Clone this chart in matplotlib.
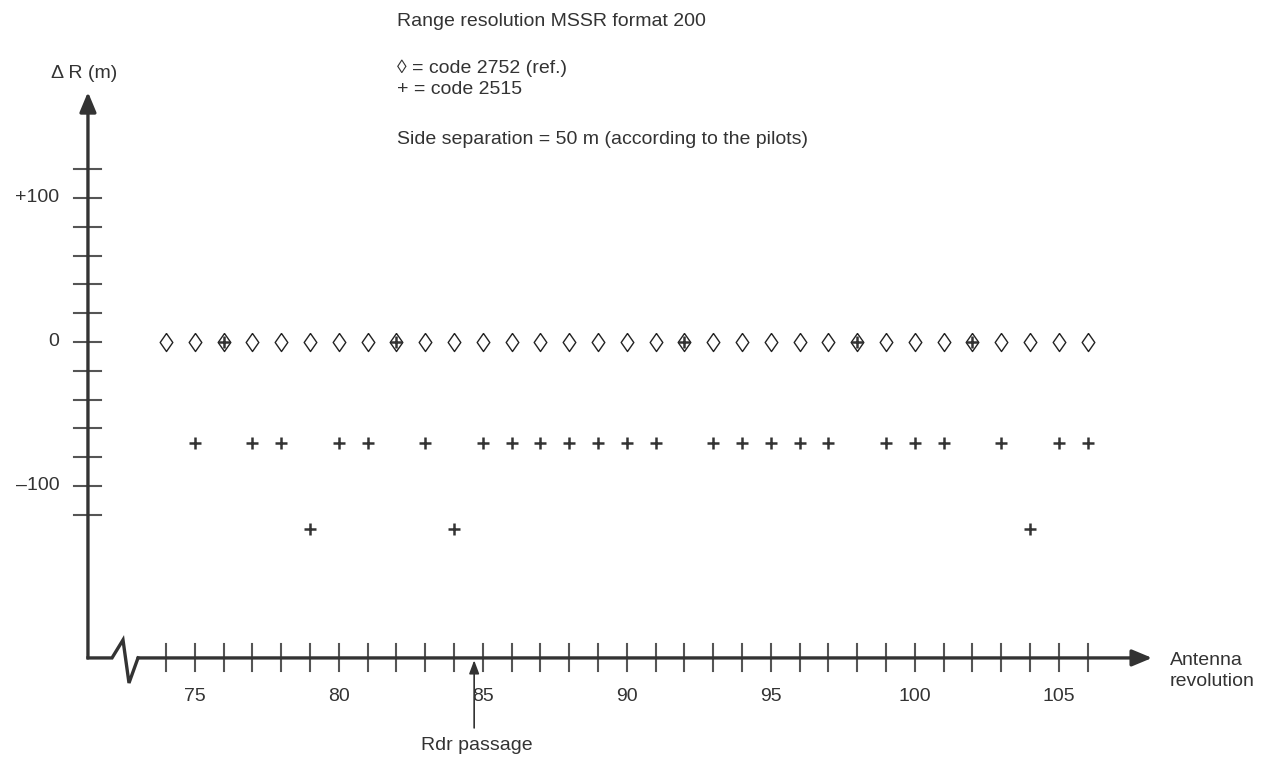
import matplotlib
matplotlib.use("Agg")
import matplotlib.pyplot as plt
from matplotlib.patches import FancyArrowPatch

plt.rcParams["font.family"] = ["Liberation Sans", "DejaVu Sans"]

INK = "#333333"
TICK_INK = "#555555"

# reference code 2752: every antenna revolution sits on 0
ref_revs = [74, 75, 76, 77, 78, 79, 80, 81, 82, 83, 84, 85, 86, 87, 88, 89, 90,
            91, 92, 93, 94, 95, 96, 97, 98, 99, 100, 101, 102, 103, 104, 105, 106]
ref_dr = [0, 0, 0, 0, 0, 0, 0, 0, 0, 0, 0, 0, 0, 0, 0, 0, 0,
          0, 0, 0, 0, 0, 0, 0, 0, 0, 0, 0, 0, 0, 0, 0, 0]

# code 2515
alt_revs = [75, 76, 77, 78, 79, 80, 81, 82, 83, 84, 85, 86, 87, 88, 89, 90,
            91, 92, 93, 94, 95, 96, 97, 98, 99, 100, 101, 102, 103, 104, 105, 106]
alt_dr = [-70, 0, -70, -70, -130, -70, -70, 0, -70, -130, -70, -70, -70, -70, -70, -70,
          -70, 0, -70, -70, -70, -70, -70, 0, -70, -70, -70, 0, -70, -130, -70, -70]

x_ticks = [74, 75, 76, 77, 78, 79, 80, 81, 82, 83, 84, 85, 86, 87, 88, 89, 90,
           91, 92, 93, 94, 95, 96, 97, 98, 99, 100, 101, 102, 103, 104, 105, 106]
x_labels = {75: "75", 80: "80", 85: "85", 90: "90", 95: "95", 100: "100", 105: "105"}
y_ticks = [-120, -100, -80, -60, -40, -20, 0, 20, 40, 60, 80, 100, 120]
y_labels = {100: "+100", 0: "0", -100: "\u2013100"}

radar_passage = 84.7

W, H = 1267, 759

DIAMOND = [(0, 1), (0.7, 0), (0, -1), (-0.7, 0), (0, 1)]


def fx(px):
    return px / W


def fy(py):
    return 1 - py / H


fig = plt.figure(figsize=(W / 100, H / 100), dpi=100)
ax = fig.add_axes([0, 0, 1, 1])
# 1 revolution = 28.8 px, 100 m = 144 px; rev 74 at x=166 px, 0 m at y=342 px
ax.set_xlim(74 - 166 / 28.8, 74 + (W - 166) / 28.8)
ax.set_ylim((342 - H) / 1.44, 342 / 1.44)
ax.axis("off")

y_axis_x = 71.29
x_axis_y = -219.4
ax_lw = 2.4

# y axis with arrow
ax.add_patch(FancyArrowPatch((y_axis_x, x_axis_y), (y_axis_x, 173.6),
                             arrowstyle="-|>,head_length=12,head_width=5",
                             mutation_scale=1, shrinkA=0, shrinkB=0,
                             lw=ax_lw, color=INK, zorder=3))
# x axis: short stub, break zigzag, then arrow
ax.plot([y_axis_x, 72.125, 72.507, 72.715, 73.028],
        [x_axis_y, x_axis_y, -206.9, -236.8, x_axis_y],
        color=INK, lw=ax_lw, solid_joinstyle="miter", zorder=3)
ax.add_patch(FancyArrowPatch((73.028, x_axis_y), (108.24, x_axis_y),
                             arrowstyle="-|>,head_length=12,head_width=5",
                             mutation_scale=1, shrinkA=0, shrinkB=0,
                             lw=ax_lw, color=INK, zorder=3))

for t in x_ticks:
    ax.plot([t, t], [x_axis_y + 9.5, x_axis_y - 9], color=TICK_INK, lw=1.5, zorder=2)
    if t in x_labels:
        ax.text(t, -246.5, x_labels[t], ha="center", va="center",
                fontsize=14, color=INK)

for t in y_ticks:
    ax.plot([y_axis_x - 0.5, y_axis_x + 0.45], [t, t], color=TICK_INK, lw=1.5, zorder=2)
    if t in y_labels:
        ax.text(70.3, t, y_labels[t], ha="right", va="center", fontsize=14, color=INK)

# data
ax.plot(ref_revs, ref_dr, linestyle="none", marker=DIAMOND, markersize=13,
        markerfacecolor="white", markeredgecolor="#222222", markeredgewidth=1.0, zorder=4)
ax.plot(alt_revs, alt_dr, linestyle="none", marker="+", markersize=9,
        markeredgecolor=INK, markeredgewidth=1.8, zorder=5)

# radar passage marker
ax.add_patch(FancyArrowPatch((radar_passage, -268), (radar_passage, -221),
                             arrowstyle="-|>,head_length=8,head_width=3",
                             mutation_scale=1, shrinkA=0, shrinkB=0,
                             lw=1.2, color=INK, zorder=3))
fig.text(fx(477), fy(745), "Rdr passage", ha="center", va="center", fontsize=14, color=INK)

# labels and header
fig.text(fx(84), fy(73), "\u0394 R (m)", ha="center", va="center", fontsize=14, color=INK)
fig.text(fx(1170), fy(671), "Antenna\nrevolution", ha="left", va="center",
         fontsize=14, color=INK, linespacing=1.25)
fig.text(fx(397), fy(21), "Range resolution MSSR format 200", ha="left", va="center",
         fontsize=14, color=INK)
fig.text(fx(397), fy(68), "\u25ca = code 2752 (ref.)", ha="left", va="center",
         fontsize=14, color=INK)
fig.text(fx(397), fy(90), "+ = code 2515", ha="left", va="center",
         fontsize=14, color=INK)
fig.text(fx(397), fy(139), "Side separation = 50 m (according to the pilots)",
         ha="left", va="center", fontsize=14, color=INK)

fig.savefig("out.png", dpi=100, facecolor="white")
